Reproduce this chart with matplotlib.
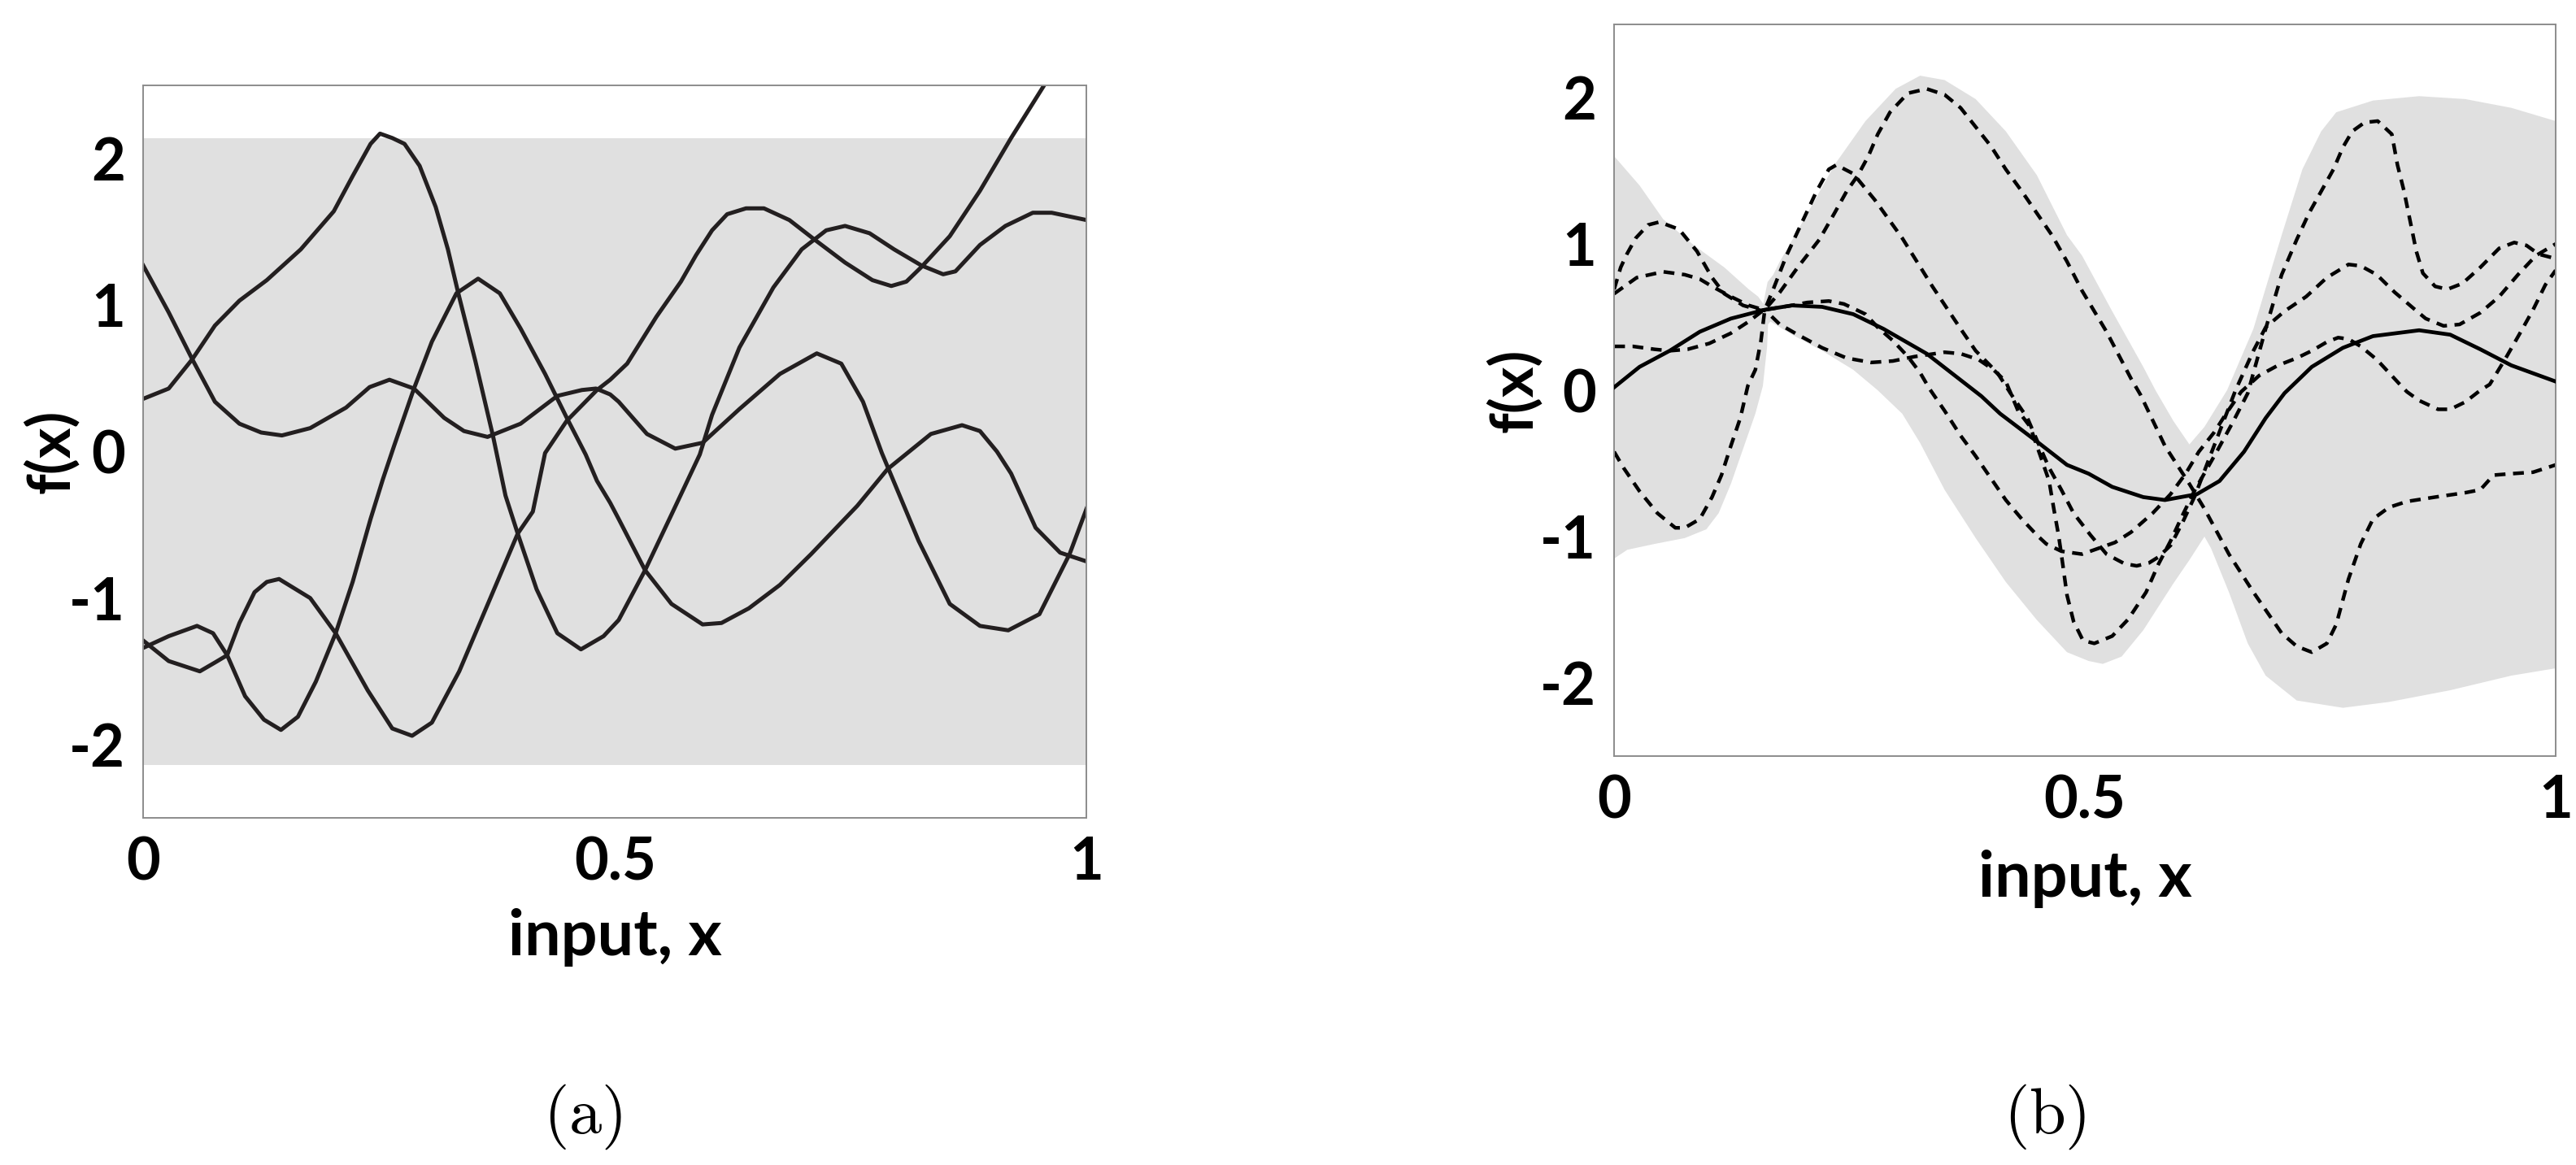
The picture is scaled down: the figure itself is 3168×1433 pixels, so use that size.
import matplotlib
matplotlib.use("Agg")
import matplotlib.pyplot as plt

plt.rcParams["font.family"] = ["Lato", "DejaVu Sans"]
plt.rcParams["mathtext.fontset"] = "cm"

# ---- panel (a): samples from the prior ----
prior_band = (-2.14, 2.14)

prior_a_x = [0, 0.027, 0.052, 0.076, 0.102, 0.125, 0.147, 0.177, 0.215, 0.240, 0.261, 0.287, 0.319, 0.340,
             0.365, 0.400, 0.439, 0.465, 0.480, 0.495, 0.504, 0.534, 0.564, 0.593, 0.632, 0.675, 0.714, 0.740,
             0.763, 0.783, 0.822, 0.855, 0.887, 0.917, 0.950, 0.982, 1.0]
prior_a_y = [1.27, 0.95, 0.63, 0.34, 0.19, 0.13, 0.11, 0.16, 0.30, 0.44, 0.49, 0.43, 0.23, 0.14,
             0.10, 0.19, 0.38, 0.42, 0.43, 0.39, 0.34, 0.12, 0.02, 0.06, 0.29, 0.53, 0.67, 0.60,
             0.34, -0.01, -0.61, -1.04, -1.19, -1.22, -1.11, -0.70, -0.39]

prior_b_x = [0, 0.027, 0.052, 0.076, 0.102, 0.131, 0.167, 0.202, 0.222, 0.241, 0.251, 0.264, 0.277, 0.293,
             0.310, 0.323, 0.334, 0.352, 0.371, 0.384, 0.397, 0.417, 0.439, 0.464, 0.488, 0.504, 0.532,
             0.560, 0.590, 0.603, 0.632, 0.668, 0.698, 0.724, 0.744, 0.770, 0.796, 0.825, 0.848, 0.861,
             0.887, 0.914, 0.943, 0.963, 1.0]
prior_b_y = [0.36, 0.43, 0.63, 0.86, 1.03, 1.17, 1.38, 1.64, 1.88, 2.10, 2.17, 2.14, 2.10, 1.95,
             1.67, 1.38, 1.08, 0.62, 0.10, -0.30, -0.56, -0.94, -1.24, -1.35, -1.26, -1.15, -0.81,
             -0.43, -0.02, 0.25, 0.71, 1.12, 1.38, 1.51, 1.54, 1.49, 1.38, 1.27, 1.21, 1.23,
             1.41, 1.54, 1.63, 1.63, 1.58]

prior_c_x = [0, 0.027, 0.060, 0.076, 0.089, 0.102, 0.118, 0.131, 0.144, 0.177, 0.204, 0.238, 0.264, 0.285,
             0.306, 0.335, 0.368, 0.397, 0.413, 0.426, 0.449, 0.481, 0.495, 0.513, 0.544, 0.570, 0.586,
             0.603, 0.619, 0.639, 0.658, 0.685, 0.711, 0.744, 0.773, 0.793, 0.809, 0.825, 0.855, 0.887,
             0.920, 0.956, 0.990]
prior_c_y = [-1.29, -1.43, -1.50, -1.44, -1.39, -1.17, -0.96, -0.89, -0.87, -1.00, -1.24, -1.63, -1.89, -1.94,
             -1.85, -1.50, -1.00, -0.56, -0.41, -0.01, 0.21, 0.42, 0.49, 0.60, 0.92, 1.16, 1.34,
             1.51, 1.62, 1.66, 1.66, 1.58, 1.45, 1.29, 1.17, 1.13, 1.16, 1.26, 1.47, 1.78,
             2.14, 2.51, 2.85]

prior_d_x = [0, 0.027, 0.057, 0.074, 0.089, 0.108, 0.128, 0.146, 0.164, 0.183, 0.204, 0.222, 0.241, 0.254,
             0.266, 0.287, 0.306, 0.332, 0.355, 0.378, 0.400, 0.426, 0.449, 0.469, 0.481, 0.495, 0.504,
             0.532, 0.560, 0.593, 0.613, 0.642, 0.675, 0.708, 0.757, 0.789, 0.812, 0.835, 0.868, 0.887,
             0.905, 0.920, 0.946, 0.972, 1.0]
prior_d_y = [-1.34, -1.26, -1.19, -1.24, -1.39, -1.67, -1.83, -1.90, -1.81, -1.57, -1.24, -0.89, -0.46, -0.19,
             0.04, 0.43, 0.75, 1.08, 1.18, 1.08, 0.84, 0.53, 0.23, -0.02, -0.20, -0.35, -0.46,
             -0.81, -1.04, -1.18, -1.17, -1.07, -0.91, -0.70, -0.37, -0.12, 0.00, 0.12, 0.18, 0.14,
             0.00, -0.15, -0.52, -0.69, -0.75]

# ---- panel (b): posterior ----
post_mean_x = [0, 0.027, 0.059, 0.091, 0.124, 0.160, 0.189, 0.221, 0.254, 0.286, 0.332, 0.368, 0.390, 0.410,
               0.449, 0.481, 0.504, 0.529, 0.562, 0.585, 0.619, 0.643, 0.669, 0.692, 0.712, 0.741, 0.774,
               0.806, 0.855, 0.888, 0.920, 0.953, 1.0]
post_mean_y = [0.02, 0.16, 0.27, 0.40, 0.49, 0.55, 0.58, 0.57, 0.52, 0.42, 0.25, 0.07, -0.04, -0.16,
               -0.35, -0.51, -0.57, -0.66, -0.73, -0.75, -0.71, -0.62, -0.42, -0.19, -0.02, 0.16, 0.29,
               0.37, 0.41, 0.38, 0.28, 0.17, 0.06]

band_up_x = [0, 0.027, 0.052, 0.085, 0.117, 0.143, 0.153, 0.1585, 0.1605, 0.163, 0.169, 0.176, 0.202, 0.234,
             0.267, 0.299, 0.325, 0.351, 0.384, 0.416, 0.449, 0.481, 0.497, 0.529, 0.562, 0.575, 0.594,
             0.611, 0.627, 0.651, 0.679, 0.709, 0.731, 0.751, 0.767, 0.806, 0.855, 0.904, 0.953, 1.0]
band_up_y = [1.60, 1.40, 1.17, 0.99, 0.84, 0.69, 0.64, 0.59, 0.66, 0.74, 0.79, 0.88, 1.17, 1.54,
             1.84, 2.06, 2.15, 2.12, 1.99, 1.77, 1.47, 1.06, 0.92, 0.54, 0.16, 0.00, -0.21,
             -0.37, -0.25, 0.00, 0.42, 1.06, 1.51, 1.77, 1.90, 1.98, 2.01, 1.99, 1.93, 1.84]
band_lo_x = [0, 0.014, 0.043, 0.075, 0.098, 0.111, 0.124, 0.137, 0.150, 0.158, 0.1625, 0.1635, 0.166, 0.189,
             0.221, 0.254, 0.280, 0.306, 0.325, 0.351, 0.384, 0.416, 0.449, 0.481, 0.504, 0.519, 0.539,
             0.562, 0.594, 0.611, 0.627, 0.634, 0.653, 0.673, 0.692, 0.725, 0.774, 0.823, 0.888, 0.953, 1.0]
band_lo_y = [-1.15, -1.09, -1.05, -1.01, -0.95, -0.84, -0.64, -0.40, -0.16, 0.03, 0.30, 0.45, 0.47, 0.38,
             0.27, 0.14, 0.00, -0.16, -0.36, -0.68, -1.01, -1.31, -1.57, -1.79, -1.85, -1.87, -1.82,
             -1.64, -1.32, -1.16, -1.00, -1.08, -1.38, -1.73, -1.95, -2.12, -2.17, -2.13, -2.05, -1.95, -1.90]

post_s1_x = [0, 0.010, 0.027, 0.046, 0.065, 0.075, 0.091, 0.104, 0.114, 0.124, 0.134, 0.142, 0.150, 0.156,
             0.160, 0.176, 0.195, 0.218, 0.234, 0.247, 0.259, 0.270, 0.280, 0.293, 0.312, 0.332, 0.351,
             0.368, 0.384, 0.400, 0.416, 0.433, 0.449, 0.465, 0.481, 0.497, 0.523, 0.549, 0.559, 0.585,
             0.611, 0.627, 0.653, 0.679, 0.709, 0.725, 0.741, 0.757, 0.767, 0.780, 0.793, 0.806, 0.823,
             0.842, 0.872, 0.904, 0.920, 0.934, 0.953, 0.976, 1.0]
post_s1_y = [-0.42, -0.53, -0.69, -0.84, -0.94, -0.94, -0.88, -0.73, -0.58, -0.38, -0.19, 0.03, 0.14, 0.34,
             0.55, 0.67, 0.84, 1.03, 1.21, 1.36, 1.47, 1.60, 1.75, 1.90, 2.03, 2.06, 2.02,
             1.93, 1.80, 1.67, 1.51, 1.36, 1.21, 1.06, 0.88, 0.68, 0.40, 0.08, -0.03, -0.38,
             -0.64, -0.81, -1.12, -1.38, -1.66, -1.75, -1.79, -1.73, -1.60, -1.29, -1.05, -0.88, -0.80,
             -0.76, -0.73, -0.70, -0.68, -0.58, -0.57, -0.56, -0.51]

post_s2_x = [0, 0.020, 0.043, 0.059, 0.078, 0.101, 0.124, 0.143, 0.156, 0.160, 0.169, 0.183, 0.199, 0.215,
             0.228, 0.236, 0.254, 0.277, 0.306, 0.338, 0.368, 0.384, 0.407, 0.423, 0.439, 0.449, 0.462,
             0.475, 0.488, 0.506, 0.523, 0.542, 0.555, 0.568, 0.578, 0.591, 0.604, 0.617, 0.630, 0.645,
             0.660, 0.679, 0.692, 0.712, 0.735, 0.757, 0.780, 0.793, 0.810, 0.829, 0.849, 0.862, 0.881,
             0.898, 0.920, 0.940, 0.960, 0.979, 1.0]
post_s2_y = [0.30, 0.30, 0.28, 0.27, 0.28, 0.32, 0.39, 0.47, 0.535, 0.55, 0.69, 0.92, 1.14, 1.36,
             1.51, 1.54, 1.48, 1.30, 1.04, 0.71, 0.42, 0.27, 0.12, -0.04, -0.19, -0.34, -0.53,
             -0.68, -0.84, -0.99, -1.12, -1.185, -1.20, -1.18, -1.14, -1.06, -0.90, -0.72, -0.50, -0.25,
             0.00, 0.27, 0.43, 0.54, 0.64, 0.77, 0.86, 0.85, 0.79, 0.67, 0.56, 0.49, 0.44,
             0.45, 0.53, 0.64, 0.79, 0.92, 1.00]

post_s3_x = [0, 0.007, 0.0135, 0.023, 0.036, 0.048, 0.069, 0.088, 0.104, 0.117, 0.137, 0.156, 0.160, 0.176,
             0.195, 0.221, 0.247, 0.273, 0.296, 0.319, 0.351, 0.368, 0.387, 0.403, 0.416, 0.429, 0.442,
             0.449, 0.455, 0.462, 0.467, 0.472, 0.475, 0.478, 0.481, 0.488, 0.498, 0.510, 0.529, 0.546,
             0.565, 0.578, 0.591, 0.604, 0.617, 0.640, 0.657, 0.673, 0.692, 0.709, 0.725, 0.738, 0.751,
             0.764, 0.774, 0.784, 0.797, 0.811, 0.826, 0.832, 0.839, 0.846, 0.852, 0.859, 0.872, 0.885,
             0.901, 0.920, 0.940, 0.956, 0.969, 0.982, 1.0]
post_s3_y = [0.69, 0.84, 0.93, 1.04, 1.13, 1.15, 1.10, 0.95, 0.77, 0.66, 0.58, 0.545, 0.55, 0.45,
             0.38, 0.29, 0.22, 0.19, 0.20, 0.23, 0.26, 0.25, 0.21, 0.14, 0.06, -0.14, -0.25,
             -0.38, -0.49, -0.62, -0.81, -0.99, -1.12, -1.26, -1.40, -1.58, -1.71, -1.73, -1.68, -1.565,
             -1.38, -1.19, -1.03, -0.85, -0.68, -0.42, -0.22, -0.02, 0.42, 0.79, 1.03, 1.21, 1.36,
             1.51, 1.66, 1.77, 1.83, 1.84, 1.75, 1.54, 1.36, 1.14, 0.95, 0.80, 0.71, 0.69,
             0.73, 0.84, 0.97, 1.01, 0.99, 0.93, 0.90]

post_s4_x = [0, 0.024, 0.052, 0.075, 0.091, 0.104, 0.124, 0.143, 0.156, 0.160, 0.189, 0.205, 0.228, 0.244,
             0.254, 0.267, 0.280, 0.296, 0.312, 0.325, 0.335, 0.351, 0.368, 0.384, 0.400, 0.416, 0.433,
             0.449, 0.459, 0.475, 0.497, 0.532, 0.549, 0.572, 0.591, 0.607, 0.621, 0.637, 0.650, 0.666,
             0.685, 0.705, 0.725, 0.741, 0.757, 0.769, 0.780, 0.793, 0.810, 0.823, 0.836, 0.842, 0.855,
             0.875, 0.888, 0.904, 0.920, 0.930, 0.947, 0.963, 0.976, 0.989, 1.0]
post_s4_y = [0.66, 0.77, 0.81, 0.79, 0.76, 0.71, 0.64, 0.58, 0.555, 0.55, 0.58, 0.60, 0.61, 0.59,
             0.56, 0.52, 0.43, 0.34, 0.23, 0.12, 0.01, -0.14, -0.31, -0.45, -0.60, -0.75, -0.88,
             -0.99, -1.05, -1.10, -1.12, -1.04, -0.97, -0.84, -0.71, -0.57, -0.42, -0.29, -0.16, -0.01,
             0.10, 0.17, 0.22, 0.27, 0.33, 0.36, 0.35, 0.30, 0.21, 0.12, 0.03, -0.01, -0.07,
             -0.13, -0.13, -0.08, 0.00, 0.04, 0.22, 0.40, 0.55, 0.72, 0.82]

x_ticks = [0, 0.5, 1]
x_ticklabels = ["0", "0.5", "1"]
y_ticks = [-2, -1, 0, 1, 2]
y_ticklabels = ["-2", "-1", "0", "1", "2"]

band_color = "#e0e0e0"


def style_axes(ax, xlab_y, ylab_x):
    ax.set_xlim(0, 1)
    ax.set_ylim(-2.5, 2.5)
    ax.set_xticks(x_ticks)
    ax.set_xticklabels(x_ticklabels, fontsize=52, fontweight="bold")
    ax.set_yticks(y_ticks)
    ax.set_yticklabels(y_ticklabels, fontsize=52, fontweight="bold")
    ax.tick_params(length=0, pad=16)
    for s in ax.spines.values():
        s.set_color("#8c8c8c")
        s.set_linewidth(1.4)
    ax.set_xlabel("input, x", fontsize=57, fontweight="bold")
    ax.xaxis.set_label_coords(0.5, xlab_y)
    ax.xaxis.label.set_va("center")
    ax.set_ylabel("f(x)", fontsize=52, fontweight="bold")
    ax.yaxis.set_label_coords(ylab_x, 0.5)
    ax.yaxis.label.set_va("center")


fig = plt.figure(figsize=(31.68, 14.33), dpi=100)
ax1 = fig.add_axes([0.0556, 0.298, 0.3662, 0.6288])
ax2 = fig.add_axes([0.6266, 0.351, 0.3655, 0.628])

# panel (a)
ax1.axhspan(prior_band[0], prior_band[1], color=band_color, lw=0, zorder=0)
for xs, ys in [(prior_a_x, prior_a_y), (prior_b_x, prior_b_y),
               (prior_c_x, prior_c_y), (prior_d_x, prior_d_y)]:
    ax1.plot(xs, ys, color="#231f20", lw=3.6, solid_joinstyle="round", zorder=2)
style_axes(ax1, -0.163, -0.097)

# panel (b)
poly_x = band_up_x + band_lo_x[::-1]
poly_y = band_up_y + band_lo_y[::-1]
ax2.fill(poly_x, poly_y, color=band_color, lw=0, zorder=0)
for xs, ys in [(post_s1_x, post_s1_y), (post_s2_x, post_s2_y),
               (post_s3_x, post_s3_y), (post_s4_x, post_s4_y)]:
    ax2.plot(xs, ys, color="black", lw=3.2, dashes=(3.0, 2.1), zorder=2)
ax2.plot(post_mean_x, post_mean_y, color="black", lw=3.4, solid_joinstyle="round", zorder=3)
style_axes(ax2, -0.168, -0.106)

fig.text(717 / 3168, 1 - 1374 / 1433, r"$(\mathrm{a})$", ha="center", va="center", fontsize=58)
fig.text(2515 / 3168, 1 - 1374 / 1433, r"$(\mathrm{b})$", ha="center", va="center", fontsize=58)

fig.savefig("out.png", dpi=100)
